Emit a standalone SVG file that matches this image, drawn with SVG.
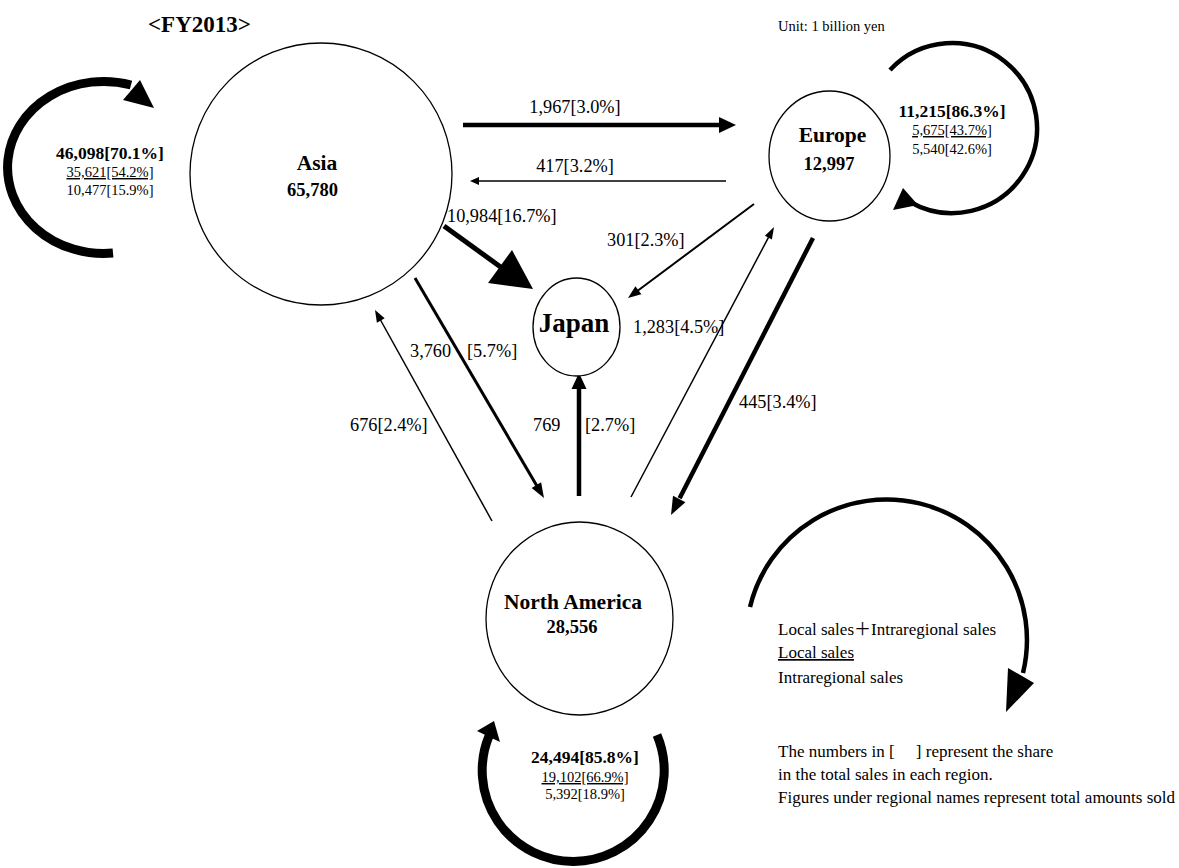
<svg xmlns="http://www.w3.org/2000/svg" width="1179" height="868" viewBox="0 0 1179 868">
<style>
text{font-family:"Liberation Serif","Times New Roman","Noto Sans CJK JP",serif;fill:#000}
.name{font-size:21.5px;font-weight:bold;text-anchor:middle}
.num{font-size:18.5px;font-weight:bold;text-anchor:middle}
.flow{font-size:18.3px}
.lb{font-size:17.5px;font-weight:bold;text-anchor:middle}
.lr{font-size:14.5px;text-anchor:middle}
.u{text-decoration:underline}
.leg{font-size:17px}
.node{fill:#fff;stroke:#000;stroke-width:1.3}
.ln{stroke:#000;fill:none}
.head{fill:#000;stroke:none}
</style>
<rect width="1179" height="868" fill="#fff"/>
<text x="148" y="32" style="font-size:23px;font-weight:bold">&lt;FY2013&gt;</text>
<text x="778" y="31" style="font-size:14.5px">Unit: 1 billion yen</text>

<g id="connectors">
  <!-- Asia -> Europe -->
  <line class="ln" x1="463" y1="125" x2="720" y2="125" stroke-width="4.5"/>
  <polygon class="head" points="736,125 719,117 719,133"/>
  <!-- Europe -> Asia -->
  <line class="ln" x1="726" y1="181" x2="478" y2="181" stroke-width="1.3"/>
  <polygon class="head" points="470,181 479,177 479,185"/>
  <!-- Asia -> Japan -->
  <line class="ln" x1="444" y1="226" x2="502" y2="268" stroke-width="5"/>
  <polygon class="head" points="533,289 488,283 512,250"/>
  <!-- Europe -> Japan -->
  <line class="ln" x1="754" y1="204" x2="638" y2="290.5" stroke-width="2"/>
  <polygon class="head" points="628,298 635.4,286.2 641.4,294.2"/>
  <!-- NA -> Europe -->
  <line class="ln" x1="631" y1="497" x2="768.6" y2="237.2" stroke-width="1.5"/>
  <polygon class="head" points="774,227 771.9,239.5 764.9,235.7"/>
  <!-- Europe -> NA -->
  <line class="ln" x1="813" y1="238" x2="679.6" y2="498.2" stroke-width="4.5"/>
  <polygon class="head" points="671,515 673,495.8 685.4,502.2"/>
  <!-- Asia -> NA -->
  <line class="ln" x1="415" y1="278" x2="536.8" y2="485.8" stroke-width="3"/>
  <polygon class="head" points="544,498 531.7,487.9 541.1,482.3"/>
  <!-- NA -> Asia -->
  <line class="ln" x1="492" y1="521" x2="380.5" y2="320" stroke-width="1.5"/>
  <polygon class="head" points="375,310 384.7,318.3 376.9,322.7"/>
  <!-- NA -> Japan -->
  <line class="ln" x1="579" y1="496" x2="579" y2="388" stroke-width="4.5"/>
  <polygon class="head" points="579,373 571.5,389 586.5,389"/>
  <!-- Asia loop -->
  <path class="ln" d="M113,253 A96,86 0 1,1 131,85" stroke-width="9"/>
  <polygon class="head" points="154,108 123,100 140,80"/>
  <!-- Europe loop -->
  <path class="ln" d="M890,70 A85,85 0 1,1 910,202" stroke-width="4.5"/>
  <polygon class="head" points="893,210 903,188 918,205"/>
  <!-- North America loop -->
  <path class="ln" d="M657,735 A91,91 0 1,1 489,736" stroke-width="9"/>
  <polygon class="head" points="494,721 477,731 500,742"/>
  <!-- Legend loop -->
  <path class="ln" d="M750,607 A140,140 0 1,1 1023,673" stroke-width="4.5"/>
  <polygon class="head" points="1008,668 1034,683 1006,712"/>
</g>

<g id="flow-labels">
  <text class="flow" x="575" y="113" text-anchor="middle">1,967[3.0%]</text>
  <text class="flow" x="575" y="172" text-anchor="middle">417[3.2%]</text>
  <text class="flow" x="447" y="222">10,984[16.7%]</text>
  <text class="flow" x="607" y="246">301[2.3%]</text>
  <text class="flow" x="633" y="333">1,283[4.5%]</text>
  <text class="flow" x="739" y="408">445[3.4%]</text>
  <text class="flow" x="410" y="357">3,760</text>
  <text class="flow" x="467" y="357">[5.7%]</text>
  <text class="flow" x="350" y="431">676[2.4%]</text>
  <text class="flow" x="533" y="431">769</text>
  <text class="flow" x="585" y="431">[2.7%]</text>
</g>

<g id="asia">
  <ellipse class="node" cx="321" cy="174" rx="131" ry="131"/>
  <text class="name" x="317" y="170">Asia</text>
  <text class="num" x="312.5" y="196">65,780</text>
</g>
<g id="asia-local">
  <text class="lb" x="110" y="159">46,098[70.1%]</text>
  <text class="lr u" x="110" y="177">35,621[54.2%]</text>
  <text class="lr" x="110" y="195">10,477[15.9%]</text>
</g>

<g id="europe">
  <ellipse class="node" cx="829.5" cy="156" rx="60.5" ry="65"/>
  <text class="name" x="832.5" y="142">Europe</text>
  <text class="num" x="829" y="170">12,997</text>
</g>
<g id="europe-local">
  <text class="lb" x="952" y="117">11,215[86.3%]</text>
  <text class="lr u" x="952" y="135">5,675[43.7%]</text>
  <text class="lr" x="952" y="154">5,540[42.6%]</text>
</g>

<g id="japan">
  <ellipse class="node" cx="576.5" cy="327" rx="43.5" ry="49" stroke-width="2.5"/>
  <text x="574" y="332" style="font-size:27px;font-weight:bold;text-anchor:middle">Japan</text>
</g>

<g id="north-america">
  <ellipse class="node" cx="579.5" cy="618.5" rx="93.5" ry="96.5"/>
  <text class="name" x="573" y="609">North America</text>
  <text class="num" x="572" y="633">28,556</text>
</g>
<g id="north-america-local">
  <text class="lb" x="585" y="763">24,494[85.8%]</text>
  <text class="lr u" x="585" y="782">19,102[66.9%]</text>
  <text class="lr" x="585" y="799">5,392[18.9%]</text>
</g>

<g id="legend">
  <text class="leg" x="778" y="635">Local sales＋Intraregional sales</text>
  <text class="leg u" x="778" y="658">Local sales</text>
  <text class="leg" x="778" y="683">Intraregional sales</text>
  <text class="leg" x="778" y="757">The numbers in [&#160;&#160;&#160;&#160;&#160;] represent the share</text>
  <text class="leg" x="778" y="780">in the total sales in each region.</text>
  <text class="leg" x="778" y="803">Figures under regional names represent total amounts sold</text>
</g>
</svg>
